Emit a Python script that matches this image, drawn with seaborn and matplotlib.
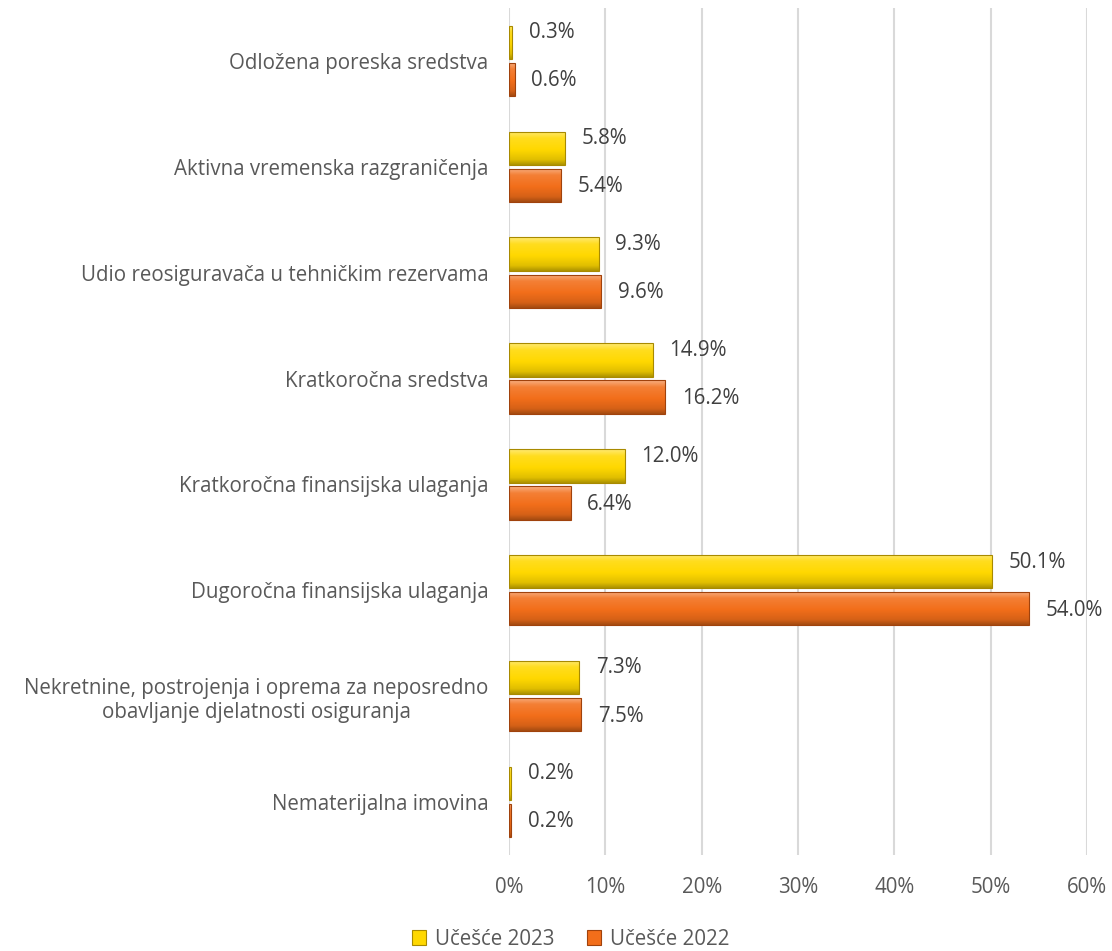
import numpy as np
import pandas as pd
import matplotlib
matplotlib.use("Agg")
import matplotlib.pyplot as plt
import matplotlib.colors as mcolors
from matplotlib.patches import Patch
import seaborn as sns

categories = [
    "Odložena poreska sredstva",
    "Aktivna vremenska razgraničenja",
    "Udio reosiguravača u tehničkim rezervama",
    "Kratkoročna sredstva",
    "Kratkoročna finansijska ulaganja",
    "Dugoročna finansijska ulaganja",
    "Nekretnine, postrojenja i oprema za neposredno\nobavljanje djelatnosti osiguranja",
    "Nematerijalna imovina",
]
share_2023 = [0.3, 5.8, 9.3, 14.9, 12.0, 50.1, 7.3, 0.2]
share_2022 = [0.6, 5.4, 9.6, 16.2, 6.4, 54.0, 7.5, 0.2]
series_names = ["Učešće 2023", "Učešće 2022"]
x_ticks = [0, 10, 20, 30, 40, 50, 60]

base_colors = {"Učešće 2023": "#FFD800", "Učešće 2022": "#F26E1A"}
edge_colors = {"Učešće 2023": "#A88A00", "Učešće 2022": "#A0420C"}

df = pd.DataFrame({
    "kategorija": categories * 2,
    "serija": [series_names[0]] * len(categories) + [series_names[1]] * len(categories),
    "vrijednost": share_2023 + share_2022,
})

sns.set_theme(style="white")
plt.rcParams["font.family"] = ["Open Sans", "DejaVu Sans"]
FS = 14.8

fig = plt.figure(figsize=(11.12, 9.51), dpi=100)
ax = fig.add_axes([0.4577, 0.101, 0.52, 0.8906])

sns.barplot(
    data=df, y="kategorija", x="vrijednost", hue="serija",
    hue_order=series_names, palette=base_colors, orient="h",
    width=0.7, gap=0.1, ax=ax, legend=False, linewidth=0,
)


def shade(color, factor):
    rgb = np.array(mcolors.to_rgb(color))
    if factor >= 1:
        return tuple(rgb + (1 - rgb) * (factor - 1))
    return tuple(rgb * factor)


def bevel_cmap(color):
    return mcolors.LinearSegmentedColormap.from_list(
        "bevel",
        [(0.0, shade(color, 1.45)), (0.2, shade(color, 1.12)),
         (0.55, color), (0.85, shade(color, 0.88)), (1.0, shade(color, 0.68))],
    )


# Replace flat fills with a bevelled gradient, clipped to each bar
for container, name in zip(ax.containers, series_names):
    cmap = bevel_cmap(base_colors[name])
    grad = np.linspace(0, 1, 64).reshape(-1, 1)
    for bar in container.patches:
        x0, y0 = bar.get_x(), bar.get_y()
        w, h = bar.get_width(), bar.get_height()
        bar.set_facecolor("none")
        bar.set_edgecolor(edge_colors[name])
        bar.set_linewidth(0.8)
        im = ax.imshow(grad, cmap=cmap, aspect="auto", interpolation="bilinear",
                       extent=(x0, x0 + w, y0 + h, y0), zorder=bar.get_zorder() - 0.1)
        im.set_clip_path(bar)

# Value labels
for container, name in zip(ax.containers, series_names):
    dy = 7 if name == series_names[0] else -1
    for bar, val in zip(container.patches, container.datavalues):
        ax.annotate(f"{val:.1f}%",
                    xy=(bar.get_x() + bar.get_width(), bar.get_y() + bar.get_height() / 2),
                    xytext=(12, dy), textcoords="offset points",
                    ha="left", va="center", fontsize=FS, color="#404040")

ax.set_xlim(0, 60)
ax.set_ylim(len(categories) - 0.5, -0.5)
ax.set_xticks(x_ticks)
ax.set_xticklabels([f"{t}%" for t in x_ticks], fontsize=FS, color="#595959")
ax.tick_params(axis="x", length=0, pad=16)
ax.tick_params(axis="y", length=0, pad=15, labelsize=FS, labelcolor="#595959")
for lbl in ax.get_yticklabels():
    lbl.set_multialignment("center")
ax.set_xlabel("")
ax.set_ylabel("")
ax.xaxis.grid(True, color="#D9D9D9", linewidth=1.5)
ax.yaxis.grid(False)
ax.set_axisbelow(True)
for s in ax.spines.values():
    s.set_visible(False)

handles = [Patch(facecolor=base_colors[n], edgecolor=edge_colors[n], linewidth=0.8) for n in series_names]
fig.legend(handles, series_names, loc="lower center", bbox_to_anchor=(0.513, -0.018),
           ncol=2, frameon=False, fontsize=FS, handlelength=0.7, handleheight=0.7,
           handletextpad=0.4, columnspacing=1.6, labelcolor="#595959")

fig.savefig("out.png", dpi=100)
